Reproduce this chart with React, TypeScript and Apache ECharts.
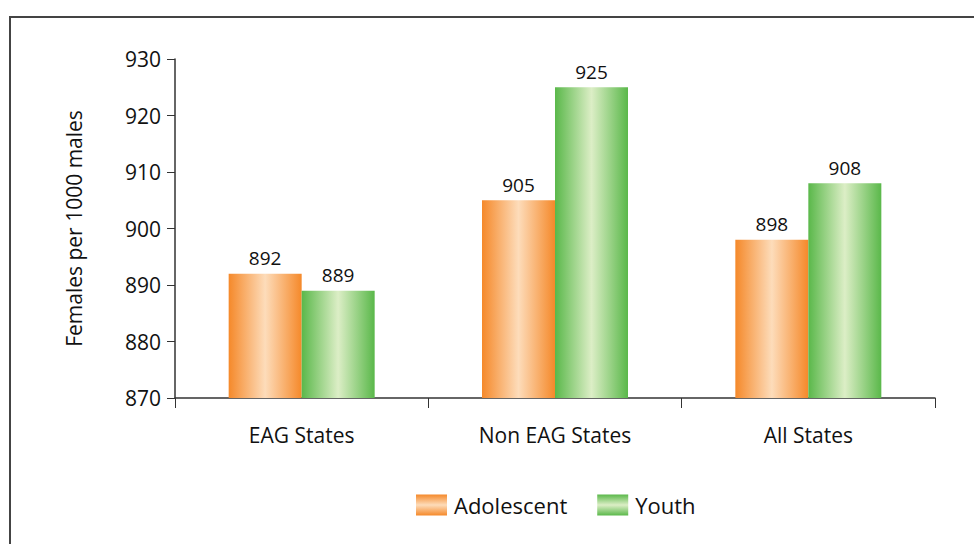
import React, { useEffect, useRef } from "react";
import * as echarts from "echarts";

const categories = ["EAG States", "Non EAG States", "All States"];
const adolescent = [892, 905, 898];
const youth = [889, 925, 908];
const seriesNames = ["Adolescent", "Youth"];
const yTicks = { min: 870, max: 930, interval: 10 };
const yTitle = "Females per 1000 males";

const FONT = "Open Sans";

const hGrad = (edge: string, mid: string) =>
  new echarts.graphic.LinearGradient(0, 0, 1, 0, [
    { offset: 0, color: edge },
    { offset: 0.5, color: mid },
    { offset: 1, color: edge },
  ]);
const vGrad = (edge: string, mid: string) =>
  new echarts.graphic.LinearGradient(0, 0, 0, 1, [
    { offset: 0, color: edge },
    { offset: 0.5, color: mid },
    { offset: 1, color: edge },
  ]);

const ORANGE = ["#F5892A", "#FDDCBA"];
const GREEN = ["#5AB84A", "#DCEEC6"];

export default function App() {
  const ref = useRef<HTMLDivElement>(null);
  useEffect(() => {
    document.body.style.margin = "0";
    const chart = echarts.init(ref.current!, null, { renderer: "svg" });
    const labelStyle = {
      show: true,
      position: "top" as const,
      distance: 6,
      fontFamily: FONT,
      fontSize: 19,
      color: "#111",
    };
    chart.setOption({
      animation: false,
      backgroundColor: "#fff",
      textStyle: { fontFamily: FONT },
      graphic: [
        {
          type: "polyline",
          shape: { points: [[10, 544], [10, 17], [974, 17]] },
          style: { stroke: "#444", lineWidth: 2, fill: null },
          silent: true,
        },
      ],
      grid: { left: 175, right: 39, top: 59, bottom: 146 },
      legend: {
        bottom: 23,
        left: 411,
        icon: "rect",
        itemWidth: 31,
        itemHeight: 21,
        itemGap: 30,
        textStyle: { fontFamily: FONT, fontSize: 22, color: "#111", padding: [0, 0, 0, 2] },
        data: [
          { name: seriesNames[0], itemStyle: { color: vGrad(ORANGE[0], ORANGE[1]) } },
          { name: seriesNames[1], itemStyle: { color: vGrad(GREEN[0], GREEN[1]) } },
        ],
      },
      xAxis: {
        type: "category",
        data: categories,
        axisLine: { lineStyle: { color: "#333", width: 1.5 } },
        axisTick: { show: true, length: 10, lineStyle: { color: "#333" } },
        axisLabel: { fontFamily: FONT, fontSize: 21, color: "#111", margin: 26 },
      },
      yAxis: {
        type: "value",
        min: yTicks.min,
        max: yTicks.max,
        interval: yTicks.interval,
        name: yTitle,
        nameLocation: "middle",
        nameGap: 91,
        nameTextStyle: { fontFamily: FONT, fontSize: 21, color: "#111" },
        splitLine: { show: false },
        axisLine: { show: true, lineStyle: { color: "#333", width: 1.5 } },
        axisTick: { show: true, length: 8, lineStyle: { color: "#333" } },
        axisLabel: { fontFamily: FONT, fontSize: 21, color: "#111", margin: 14 },
      },
      series: [
        {
          name: seriesNames[0],
          type: "bar",
          data: adolescent,
          barWidth: 73,
          barGap: "0%",
          itemStyle: { color: hGrad(ORANGE[0], ORANGE[1]) },
          label: labelStyle,
        },
        {
          name: seriesNames[1],
          type: "bar",
          data: youth,
          barWidth: 73,
          barGap: "0%",
          itemStyle: { color: hGrad(GREEN[0], GREEN[1]) },
          label: labelStyle,
        },
      ],
    });
    return () => chart.dispose();
  }, []);
  return <div ref={ref} style={{ width: 974, height: 544 }} />;
}
